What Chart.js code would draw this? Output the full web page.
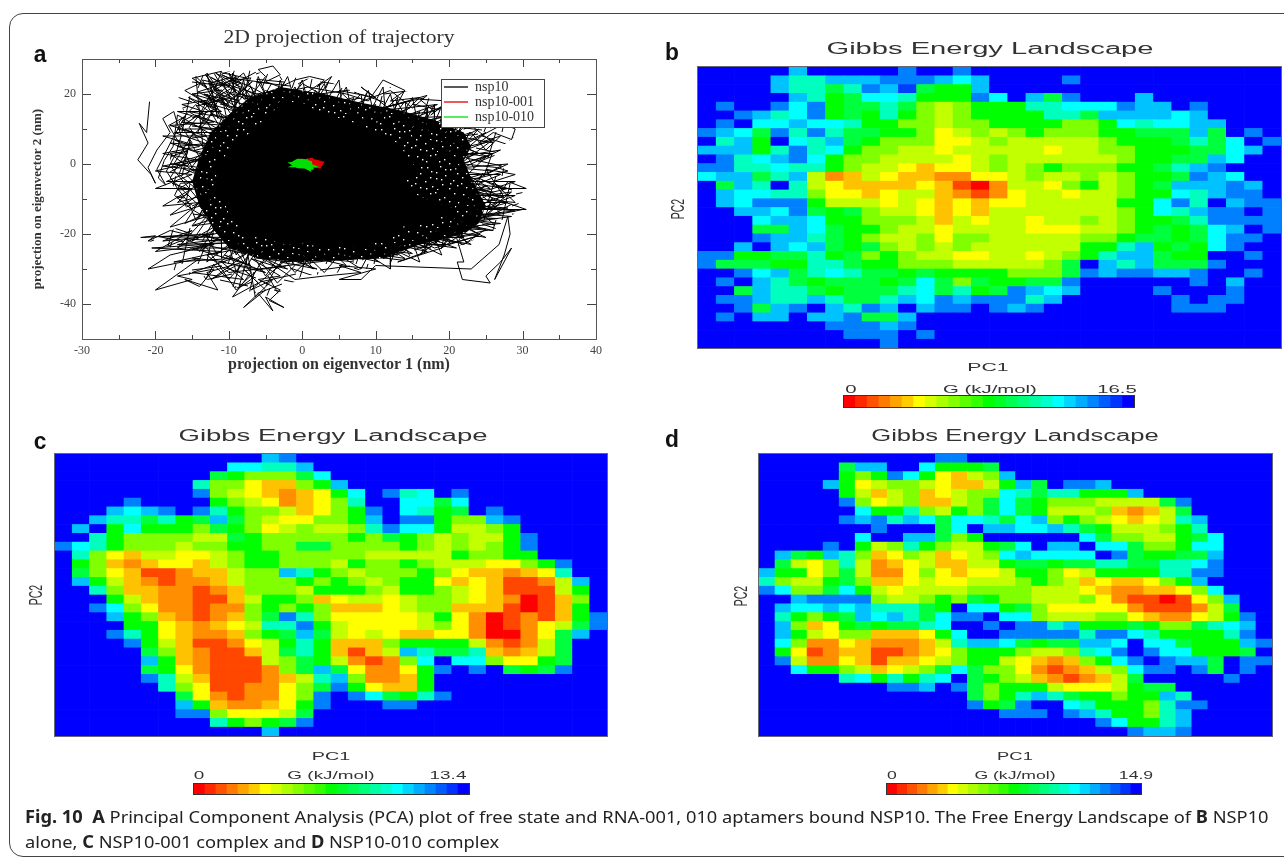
<!DOCTYPE html>
<html><head><meta charset="utf-8">
<script src="https://cdn.jsdelivr.net/npm/chart.js@4"></script>
<style>
html,body{margin:0;padding:0;background:#fff;width:1284px;height:858px;overflow:hidden}
#page{position:absolute;left:0;top:0;width:1284px;height:858px;overflow:hidden;filter:blur(.55px)}
#frame{position:absolute;left:9px;top:13px;width:1400px;height:842px;border:1px solid #444;border-radius:14px}
canvas{position:absolute;display:block}
.t{position:absolute;white-space:nowrap;color:#222;font-family:"Liberation Sans",sans-serif;line-height:1}
.plot{position:absolute;outline:1px solid #667}
</style></head><body><div id="page"><div id="frame"></div></div>
<script>
// ---------- Panel a: trajectory, in nm ----------
const coreOutline=[[-0.5,18],[2.8,14],[6,12.5],[9,9.7],[11,8.5],[13.5,5],[14,2],[15.7,-1.6],[14,-5],[15.6,-9],[18,-11],[21,-13],[19,-15],[16.7,-17],[14,-17.5],[12,-19.6],[10.5,-22],[8,-24],[6,-23],[3.4,-24],[0,-22.5],[-2.2,-23],[-5,-21],[-7.7,-20.5],[-8.5,-17],[-10,-14],[-10.5,-11],[-12,-7],[-11.5,-4],[-12.2,-0.7],[-10.5,2],[-9.5,6],[-7.5,8],[-6.2,11],[-4.6,13],[-3,17]];
const speckleOutline=[[-3,22],[3,20],[8,17.5],[13,15.5],[18,12.5],[22,9],[23,5],[22,1],[23,-4],[25,-12],[24,-17],[22,-20],[16,-23],[11,-27],[5,-27.5],[0,-28],[-6,-27],[-10,-24],[-12,-19],[-14,-12],[-15,-5],[-14,2],[-12.5,9],[-10,14],[-7,19]];
const meshOutline=[[-15,25],[-8,27],[-3,25],[3,24],[8,20],[12,22],[17,19],[21,15],[27,12],[29,8],[26,3],[28,-3],[30,-8],[29,-14],[26,-19],[22,-23],[17,-25],[12,-29],[5,-31],[0,-32],[-4,-38],[-8,-36],[-13,-33],[-18,-30],[-16,-25],[-21,-22],[-18,-19],[-14,-16],[-17,-10],[-18,-4],[-18,2],[-17,9],[-16,14],[-17,20]];
const stLeft=[[-20.8,17.8],[-21.2,9],[-22.2,11.6],[-21,6],[-22.4,1.2],[-20.6,-3],[-20,-5.5],[-21,-1],[-19.8,4],[-18,9],[-19,13],[-17.5,15],[-16.5,8],[-17.2,3],[-18.5,-2],[-17,-7],[-15.5,-11],[-14.5,-16],[-13.5,-13],[-16,-8],[-18,-4],[-16.5,1],[-15,6],[-16.8,12],[-14.5,17],[-13,12],[-15.5,7],[-14,2],[-15.8,-3],[-13.5,-8],[-12,-12],[-14,-6],[-13,0],[-12.5,6],[-14,11],[-11.5,16],[-13,20],[-11,13],[-12,8],[-17,14],[-17.6,5],[-18.8,1],[-19.6,-4],[-18.6,-6],[-19.8,-1.5],[-17.6,7.5],[-16,13.5],[-18.2,11],[-16.2,4],[-15,-1],[-13,-5],[-16.6,-5.5],[-17.4,-9],[-15,-13],[-12.6,-16],[-14.2,-10],[-17.8,-1],[-14.8,9],[-17,10],[-13.4,15],[-16.4,17],[-12.2,18.5],[-15.4,10.5],[-13.2,4],[-16.2,-1.4],[-14.2,-3],[-18,3],[-15.6,3.6],[-16.8,-3],[-12.8,-10]];
const stTopLeft=[[-14.5,25],[-13,22],[-15,24.5],[-11,26.5],[-12,21],[-9,25],[-10,19],[-13.5,17],[-8.5,23],[-11,25.5],[-7,22],[-9.5,16],[-12,19],[-8,26],[-6.5,20],[-10,14],[-7.5,18],[-5,25],[-6,27],[-4,28],[-3,25.5],[-5,23.5],[-3,22],[-1,24],[1,25],[3,24],[2,22],[4,25],[2.5,20],[0,23],[-2,18],[-5,21],[-8,15],[-14,23],[-16,21],[-12,16],[-15.5,19],[-10.5,12],[-13.6,24],[-10.5,22.5],[-12.5,24.8],[-9,21],[-11.8,18],[-14.2,20.6],[-9.6,23.8],[-7,24.6],[-8.2,20],[-5.8,17],[-4.2,23],[-10,24.6],[-12.8,23],[-8.6,17.8],[-11.2,20],[-13.2,25.6],[-10.4,17],[-6.8,23.6],[-9.2,19],[-11.4,23.4],[-7.6,21],[-4.8,19],[-6.2,24.2],[-2.4,23.4],[-3.6,20],[0.8,22]];
const stTopRight=[[6,20],[9,18],[11,24],[14,21],[12,18],[16,19],[13.5,14],[18,15],[16,18.5],[20,18],[17.5,14],[21,20],[19,15],[22,17],[20,12],[24,14],[22,10],[25,12],[26,13],[29,10],[28.5,7],[26,9],[24,6],[27,8],[25,4],[23,9],[20,7],[24,3],[21,1],[8,22],[10,19],[5,21],[7,17],[12,21],[15,16],[17,19.6],[11,16],[14.6,18],[9.4,15],[18.4,17],[13,13],[19.6,13.6],[16,12],[22.6,15],[21,8],[26,6],[23,11],[27,11],[21.6,5],[25.4,2],[19.4,4]];
const stRight=[[22,0],[26.5,-1],[28,-2],[24,-4],[27,-7],[30.5,-7],[28,-5],[26,-12],[28.5,-8],[25,-9],[30.5,-13],[26,-13],[21,-12],[25,-15],[27,-11],[23,-18],[20,-15],[24,-20],[21,-21],[23.5,-15],[19,-19],[17,-23],[20,-23],[24,-20.5],[18,-24],[15,-21],[14,-25],[11,-27],[14,-22],[17,-25],[13,-28],[19,-24],[24,-10],[29,-11],[26,-5],[29,-3],[25,-1.5],[27.5,-9.5],[23,-6],[27,-14],[22.5,-16],[26.2,-17.4],[21,-8],[25.6,-7],[22.4,-3],[26,-10],[23,-13],[28,-12.6],[24.4,-12],[21.8,-18],[25,-18.6],[22,-23],[19,-21],[16,-26],[24.6,-2.6]];
const stLowerRight=[[19,-24],[21,-21],[22,-28],[21.1,-28],[21.8,-33],[25.6,-34],[25,-32],[27,-28],[28.5,-24],[26.2,-33],[27.5,-26],[28.3,-20],[28,-15],[26.8,-23],[23,-30]];
const stBottom=[[23,-30],[10,-29],[8,-33],[5,-33],[10,-30],[5,-29],[8,-31],[3,-32],[-1,-33],[-6,-26],[-2,-30],[-4,-29],[-7,-27],[-3,-32],[-6,-33],[-3,-36],[-4.5,-39],[-2.5,-41],[-5,-38],[-4,-42],[-6,-37],[-8,-41],[-5,-36],[-8,-30],[-6,-34],[-9.5,-38],[-7,-31],[-9,-25],[-12,-29],[-10,-33],[-8,-28],[-13,-31],[-11.5,-36],[-16,-33],[-14,-35],[-12,-30],[-17,-32],[-15,-33],[-20,-36],[-16,-30],[-14,-27],[-21,-30],[-18,-26],[-12,-23],[-20,-25],[-15,-19],[-19,-22],[-14,-21],[-18,-19],[-21,-22],[-20,-20.5],[-22,-21],[-12,-20],[-19,-20.8],[-9,-21],[-17,-23],[-10,-22.5],[-20.5,-24],[-11,-25],[-17.5,-28],[-9.5,-27],[-15,-31],[-8,-33],[-11,-28],[-6,-30],[-8.6,-35],[-7.4,-26],[-6.4,-38],[-4,-33],[-7,-36],[-2,-27],[2,-30],[-3,-28],[6,-27],[-10,-31],[-13,-26],[-8,-24],[-15,-24],[-7,-29],[-10.6,-26],[-5,-31],[-9,-29],[-12.4,-33],[-6.6,-24],[-14,-20],[-11,-22],[-16,-21.4],[-13,-24],[-9,-36],[-7,-33],[-5.6,-28],[-3.4,-34],[-1,-29]];
const stRingA=[[-13,12],[-11,20],[-10,10],[-8,24],[-7,14],[-6,25],[-4,15],[-3,24],[-2,16],[0,24],[1,16],[3,23],[4,15],[6,22],[7,13],[9,21],[10,12],[12,20],[13,12],[15,19],[16,9],[18,17],[18,8],[20,15],[19,6],[22,12],[20,4],[25,9],[21,2],[27,4],[22,-1],[28,0],[23,-5],[29,-5],[23,-9],[29,-9],[24,-13],[30,-13],[23,-16],[27,-17],[22,-18],[25,-21],[20,-19],[23,-23],[18,-21],[19,-26],[15,-22],[16,-28],[12,-24],[12,-30],[9,-26],[8,-30],[5,-26],[3,-31],[1,-27],[-1,-31],[-3,-26],[-5,-32],[-7,-25],[-9,-31],[-10,-23],[-13,-28],[-12,-18],[-17,-24],[-13,-15],[-18,-18],[-14,-11],[-19,-12],[-15,-7],[-20,-7],[-15,-3],[-20,-2],[-14,1],[-19,3],[-14,5],[-19,8],[-13,8],[-18,11],[-12,12],[-17,15],[-11,15],[-15,20],[-10,17],[-13,26]];
const stRingB=[[-11.5,13],[-12.5,23],[-9,12],[-9.5,26],[-5.5,15],[-7,22],[-2.5,17],[-1,22],[0.5,15],[1.8,21],[3,17],[5,24],[5.5,15],[8,20],[8.5,12],[11,22],[11.5,11],[14,18],[14.5,10],[17,16],[17,7],[19.5,19],[19,9],[23,13],[19.6,5],[24,10],[21,3],[26,7],[21.5,0],[25,2],[22.5,-3],[27,-3],[22.5,-7],[26,-8],[23.5,-11],[28,-11],[23,-14],[28.5,-15],[21.5,-17],[26,-19],[19,-18],[22,-21],[17,-21],[21,-24],[14,-22],[17.5,-24],[11,-23],[14,-27],[8,-25],[10.5,-28],[4,-25],[6,-29],[0,-26],[1.5,-30],[-2,-25],[-3.5,-30],[-6,-24],[-7.5,-29],[-9,-22],[-11,-27],[-11,-18],[-15,-22],[-12,-13],[-16,-17],[-13.5,-9],[-17,-11],[-14,-5],[-18.5,-5],[-14,-1],[-17.5,0],[-13,3],[-17,5],[-12.5,6],[-16,10],[-11.5,10],[-15.5,15],[-10,13],[-14,18],[-9,15],[-11,24],[-7,17],[-10,26]];
const stRingC=[[-8,14],[-13.4,20],[-6,16],[-11.8,26],[-5,18],[-8.6,20],[-3.8,18],[-2,25],[-1,18],[2.4,23],[2,16],[7,19],[6.2,14],[10,17],[9,11],[13,19],[12,10],[16,15],[15,8],[21,13],[17.6,6],[20.5,11],[18.4,3],[26,3],[20.4,-1],[26,-2],[21,-5],[28,-7],[22,-10],[25,-6],[22,-12],[29,-13.4],[22,-15],[26.6,-15.6],[20,-16],[24,-18],[18,-19],[20.6,-22.4],[15,-20],[18.4,-23],[12,-22],[15,-25.6],[9,-24],[13,-26],[6,-24],[7,-27.5],[2,-25],[4,-28],[-1,-24],[0,-28.4],[-4,-24],[-5,-28],[-8,-22],[-9,-26],[-10,-19],[-14,-25],[-11,-15],[-15,-17.6],[-12.4,-11],[-18,-14.6],[-13,-7],[-17,-7.4],[-13,-2],[-19,-0.6],[-12.6,2],[-18,6],[-12,5],[-17.4,9],[-11,9],[-16.4,12],[-10.4,11],[-14.6,14]];
const red001=[[0.6,0.9],[1.8,0.6],[2.5,0.2],[2.3,-0.5],[1.2,-0.3],[0.8,0.5],[1.9,0.1],[1.5,-0.6],[0.5,0.1],[1.3,1],[2.1,-0.2]];
const green010=[[-1.2,0.1],[-0.6,0.8],[0.2,0.7],[1,0.2],[1.1,-0.8],[0.2,-0.6],[-0.6,-0.5],[-1,0],[0,0.3],[0.6,-0.2],[-0.3,-0.2],[0.5,0.5],[0.7,-0.9],[-0.5,0.4]];
const axisXTicks=[-30,-20,-10,0,10,20,30,40];
const axisYTicks=[-40,-20,0,20];
// ---------- Panels b, c, d: energy per cell, one letter per cell, top row first ----------
const levelKeys="roagylhnstckbd.";
const levelFractions=[0,.07,.14,.19,.25,.31,.375,.5,.56,.6875,.75,.81,.875,.94,1];
const gridB=[
".....k.....b..b.................",
"....kttkkkbbbkck....b...........",
"....kttstbkdsnnk................",
".....ktnscctnnnbc.ksb...k.......",
".b..bcbnsstshlhnnnttcccbkk.b....",
"..bktcbnsntnhlhnnnnttskkkkck....",
".b.cckcctnnhhlhhnnnnhhnctcckk...",
"bkcsbtbtssnnhylhlhnhhhnnsssks.b.",
".tkn.ctksnhhhyylhlllllhnnnstsc.b",
"kkkntbtcnhhllylllllyllhhnnnssck.",
".btckbcnhhllllylhllllllhnnsskc..",
"bbttcttnhllygyylhlhnhhhnnstkb...",
"ckkstklaglyggaayylhllhlhnnsbkc..",
".skt.tlyggggygorallyhnlhnskkkbk.",
".kcctthyygyllgaoayllyllhnnctkbb.",
".kcbbbnlllylygygyylllllnncbt.kbb",
"..kkcbsnshllygyglllllllhnctkbb.b",
"...ckkcnnhhhlglyllyllhlhnnstbbbb",
"...sskcsnnhllyllllyyyllhnsnsck.b",
"...bkktsnhllhyhhlllllhhnssnscbb.",
"..k.kcksnshlhlhllllllnntknsncb..",
"bbnnsstnshnhllyyllylhntkksnn..b.",
"bsssnnttsnnhhhlllllhs.ktksssb...",
"..bckstctssnsnnnnhhhsbkbbkkb..b.",
".b.ktsnsssnscshsnnssb......b.k..",
"..skttsnssstcstnsbkck....b...b..",
".bbkttktsstkcbkbbbtk......b.bb..",
"..bskb.ktbk.kbb.bkb.......bbb...",
".b.kk.kkbssk....................",
".......bbbkb....................",
"........bbb.b...................",
"..........b....................."];
const gridC=[
"............kb..................",
"..........ccttk.................",
".........snhhhsc................",
"........thhygghnk...............",
"........bhlygagync.btc.b........",
"....b....nhlyagyht..ccsc........",
"...kckb.btnhhlgyhnb.ctns.b......",
"..kttstnskshlyyhhnk.bbnhhkb.....",
".k.ncnnnhsnhylhllhtbccnllhn.....",
"..tnhhhhllsnhhhhhnhsnhlhllnb....",
"bctnhhhlhhnnhhsshhhhnhlhlhnb....",
".thygllyylhnnhhhhhlllllnhhnn....",
".nhgagyyglhnnhhhlnhhnhlllyyhnb..",
".shygooagglhhktnhlhhhnhyggagyt..",
".knlgaoaaglhhhnhnhlhnnygygooalk.",
"..thggaaoaghhhlnnnhlnnhlygoooln",
"...nlgaaooglnnhgyllylhhlygarogh.",
"..bchyaaoaahnhnhgggylhhgggorogn.",
"...knhgaoaghsbthyyyyylnyaroaognb",
"....nnygagylttbnlyyyylhyaroaylsb",
"...btnygaaghnskslylyggyyarraysk.",
"....bnlgooaylntnggghnnnnlaoals..",
".....shgaooglstngoglktsstgagls..",
".....kngaooolhsnlaoahc.cchyyns..",
".....snyaoooahsksyaaynb.b.snsb..",
".....btlgoooagltkhaagn..........",
"......thyooaayhsbnyggn..........",
".......syaoaayhb.bcsntb.........",
".......kngaagynb...bb...........",
".......bbhyyyls.................",
".........tnhnsb.................",
"............k..................."];
const gridD=[
"...........bb...................",
".....skk..cnnns.................",
".....nhnbcnyglhk................",
"....knylhhlygglnks.bbk..........",
".....nlglhgylhhctsttnnnk........",
".....bhylhgglhscsnhhhllllsb.....",
"......cnnthlnhscsnlllhgagls.....",
".....bkbtkcscctsckhnhlygyltk....",
".......b...sc.kkccktsnlllhnt....",
"......c..kkshn......cshhllnsc...",
"....b.nlhtnhllnsc.kk.ccshhncc...",
".ksnkthgyhlgylhckcccc.bsnnssk...",
".slyhtlagylggllnssnssttssttcb...",
"knnyhslaayhygyylnnhylnnnnttbb...",
"thllnshggylyylllhnhlgyggyhnk....",
"bchhscnlyllllhhhhlllygaaggyhc...",
"..kbbbbhllhnhsnhhlllhyaooroyhk..",
".kcckcktttsn.ccnshyyyyyaoooals..",
".tnhnskcktscbb.cchlllhhygaaylnb.",
".khgynsnsstc..b.bbtknnnsnhhstck.",
".knlyhhgggync..bbbbbtbbctnnnntb.",
".chaaygaaagltkkcsnsskkc.ccsnnnkb",
".nyoaggooagyhnnnhllhtcb.bccnnns.",
".blaaygoggylhnnlygaghncb.bkks.bb",
"..cnnhlgylhscshhyaoaglhcbb.bs.b.",
".....tcntntc.snhlgaoagls.....b..",
"........bbk.bshnnnlyyylnss......",
".............shntktsnnhnnkt.....",
".............bnsb..ctnnnhtbb....",
"...............bbb.bktnnhtk.....",
".....................bcnntk.....",
".......................bkkb....."];
const maxB=16.5,maxC=13.4,maxD=14.9;
const colorbarSteps=[0,.04,.08,.12,.16,.2,.25,.29,.33,.37,.41,.45,.5,.54,.58,.62,.66,.7,.75,.79,.83,.87,.91,.95,1];

// ---------- helpers ----------
const page=document.getElementById('page');
function rainbow(f){ // red, yellow, green, cyan, blue
  f=Math.max(0,Math.min(1,f));const s=[[255,0,0],[255,255,0],[0,255,0],[0,255,255],[0,0,255]];
  const p=f*4,i=Math.min(3,Math.floor(p)),u=p-i;
  const c=s[i].map((v,k)=>Math.round(v+(s[i+1][k]-v)*u));return `rgb(${c[0]},${c[1]},${c[2]})`;
}
function text(str,cx,cy,css,sx,rot){
  const d=document.createElement('div');d.className='t';d.textContent=str;d.style.cssText=css||'';
  d.style.left=cx+'px';d.style.top=cy+'px';
  d.style.transform=`translate(-50%,-50%) ${rot?`rotate(${rot}deg) `:''}scaleX(${sx||1})`;
  page.appendChild(d);return d;
}
function mkCanvas(x,y,w,h){
  const c=document.createElement('canvas');c.width=w;c.height=h;
  c.style.cssText=`left:${x}px;top:${y}px;width:${w}px;height:${h}px`;page.appendChild(c);return c;
}
const quiet={legend:{display:false},tooltip:{enabled:false},title:{display:false}};
function cellValues(rows,max){return rows.map(r=>[...r.padEnd(32,'.')].slice(0,32).map(ch=>levelFractions[levelKeys.indexOf(ch)]*max));}
function heatmap(rows,max,x,y,w,h){
  const box=document.createElement('div');box.className='plot';
  box.style.cssText=`left:${x}px;top:${y}px;width:${w}px;height:${h}px`;page.appendChild(box);
  const vals=cellValues(rows,max),labels=vals[0].map((_,i)=>String(i));
  const datasets=vals.slice().reverse().map(row=>({data:row.map(()=>1),backgroundColor:row.map(v=>rainbow(v/max)),borderWidth:0,barPercentage:1,categoryPercentage:1}));
  new Chart(mkCanvas(x,y,w,h),{type:'bar',data:{labels,datasets},options:{responsive:false,animation:false,plugins:quiet,layout:{padding:0},
    scales:{x:{display:false,stacked:true},y:{display:false,stacked:true,min:0,max:32}}}});
}
function colorbar(x,y,w,h){
  new Chart(mkCanvas(x,y,w,h),{type:'bar',data:{labels:colorbarSteps.map(String),datasets:[{data:colorbarSteps.map(()=>1),backgroundColor:colorbarSteps.map(rainbow),borderWidth:0,barPercentage:1,categoryPercentage:1}]},
    options:{responsive:false,animation:false,plugins:quiet,scales:{x:{display:false},y:{display:false,min:0,max:1}}}});
  const o=document.createElement('div');o.style.cssText=`position:absolute;left:${x}px;top:${y}px;width:${w}px;height:${h}px;outline:1px solid #333`;page.appendChild(o);
}
// ---------- panel a ----------
const toPts=a=>a.map(p=>({x:p[0],y:p[1]}));
const nsp10=[].concat(stLeft,stTopLeft,stTopRight,stRight,stLowerRight,stBottom,stRingA,stRingB,stRingC);
function specklePattern(){
  const c=document.createElement('canvas');c.width=46;c.height=38;const g=c.getContext('2d');
  g.fillStyle='#000';g.fillRect(0,0,46,38);g.fillStyle='#fff';
  [[3,4],[12,9],[21,2],[30,7],[40,3],[7,15],[17,19],[26,14],[36,17],[44,12],[2,25],[11,29],[22,26],[31,23],[39,28],[6,35],[18,34],[28,32],[35,36],[43,21],[8,7],[16,3],[25,9],[35,11],[13,15],[22,20],[31,17],[41,16],[6,21],[16,25],[27,27],[36,31],[1,31],[12,36],[23,37],[43,33]].forEach(p=>g.fillRect(p[0],p[1],1.4,1.4));
  return g.createPattern(c,'repeat');
}
function meshPattern(){
  const c=document.createElement('canvas');c.width=64;c.height=44;const g=c.getContext('2d');
  g.fillStyle='#fff';g.fillRect(0,0,64,44);g.strokeStyle='#000';g.lineWidth=1;
  [[0,6,30,2],[22,0,10,22],[34,4,64,14],[4,18,40,10],[48,0,40,26],[0,30,26,20],[18,26,54,34],[60,18,30,30],[6,44,14,24],[36,44,44,22],[0,38,34,42],[42,40,64,28],[12,12,26,36],[28,16,56,22],[54,44,62,8]].forEach(l=>{g.beginPath();g.moveTo(l[0],l[1]);g.lineTo(l[2],l[3]);g.stroke();});
  return g.createPattern(c,'repeat');
}
const tickPlugin={id:'inwardTicks',afterDatasetsDraw(ch){
  const {ctx,chartArea:a,scales:{x,y}}=ch;ctx.save();ctx.strokeStyle='#444';ctx.lineWidth=1;
  const line=(x0,y0,x1,y1)=>{ctx.beginPath();ctx.moveTo(x0,y0);ctx.lineTo(x1,y1);ctx.stroke();};
  for(let v=-30;v<=40;v+=5){const p=Math.round(x.getPixelForValue(v))+.5,l=v%10===0?8:4;line(p,a.bottom,p,a.bottom-l);line(p,a.top,p,a.top+l);}
  for(let v=-40;v<=20;v+=10){const p=Math.round(y.getPixelForValue(v))+.5,l=v%20===0?9:5;line(a.left,p,a.left+l,p);line(a.right,p,a.right-l,p);}
  ctx.strokeStyle='#555';ctx.strokeRect(Math.round(a.left)+.5,Math.round(a.top)+.5,Math.round(a.width),Math.round(a.height));ctx.restore();
}};
const legendPlugin={id:'legendBox',beforeLayout(ch){
    const L=ch.legend;L._layers=()=>[{z:10,draw(area){const c=ch.ctx;c.save();c.fillStyle='#fff';c.strokeStyle='#444';c.lineWidth=1;c.fillRect(441.5,79.5,103,48);c.strokeRect(441.5,79.5,103,48);c.restore();L.draw(area);}}];
  },afterLayout(ch){const L=ch.legend;L.left=443;L.top=79;L.right=443+102;L.bottom=300;}};
new Chart(mkCanvas(0,0,640,380),{type:'scatter',data:{datasets:[
  {label:'nsp10',data:toPts(nsp10),showLine:true,borderColor:'#000',backgroundColor:'#000',borderWidth:1,pointRadius:0,order:3,pointStyle:'line'},
  {label:'nsp10-001',data:toPts(red001),showLine:true,borderColor:'#e00000',backgroundColor:'#e00000',borderWidth:5,pointRadius:0,order:2,pointStyle:'line'},
  {label:'nsp10-010',data:toPts(green010),showLine:true,borderColor:'#00e000',backgroundColor:'#00e000',borderWidth:5,pointRadius:0,order:1,pointStyle:'line'},
  {label:'core',data:toPts(coreOutline),showLine:true,borderColor:'#000',backgroundColor:'#000',borderWidth:1,pointRadius:0,fill:'shape',order:4},
  {label:'fringe',data:toPts(speckleOutline),showLine:true,borderColor:'rgba(0,0,0,0)',backgroundColor:specklePattern(),borderWidth:0,pointRadius:0,fill:'shape',order:5},
  {label:'mesh',data:toPts(meshOutline),showLine:true,borderColor:'rgba(0,0,0,0)',backgroundColor:meshPattern(),borderWidth:0,pointRadius:0,fill:'shape',order:6}
]},options:{responsive:false,animation:false,layout:{padding:{left:0,top:59,right:44,bottom:0}},
  plugins:{tooltip:{enabled:false},title:{display:false},
    legend:{position:'chartArea',align:'start',labels:{filter:i=>{i.lineWidth=1.3;return i.datasetIndex<3},sort:(a,b)=>a.datasetIndex-b.datasetIndex,usePointStyle:true,pointStyle:'line',pointStyleWidth:24,boxHeight:8,padding:1,color:'#333',font:{family:'Liberation Serif',size:14}}}},
  scales:{
    x:{type:'linear',min:-30,max:40,afterFit:s=>{s.height=41},afterBuildTicks:s=>{s.ticks=axisXTicks.map(v=>({value:v}))},grid:{display:false,drawTicks:false},border:{display:false},
       ticks:{padding:5,maxRotation:0,autoSkip:false,color:'#444',font:{family:'Liberation Serif',size:12}},
       title:{display:true,text:'projection on eigenvector 1 (nm)',color:'#333',font:{family:'Liberation Serif',size:16,weight:'bold'},padding:{top:0,bottom:6}}},
    y:{type:'linear',min:-50,max:30,afterFit:s=>{s.width=82},afterBuildTicks:s=>{s.ticks=axisYTicks.map(v=>({value:v}))},grid:{display:false,drawTicks:false},border:{display:false},
       ticks:{padding:6,autoSkip:false,color:'#444',font:{family:'Liberation Serif',size:12}},
       title:{display:true,text:'projection on eigenvector 2 (nm)',color:'#333',font:{family:'Liberation Serif',size:13,weight:'bold'},padding:{top:30,bottom:0}}}
  }},plugins:[tickPlugin,legendPlugin]});
// ---------- panels b, c, d ----------
heatmap(gridB,maxB,698,67,583,281);
heatmap(gridC,maxC,55,454,552,282);
heatmap(gridD,maxD,759,454,513,282);
colorbar(844,396,290,11);colorbar(194,784,275,10);colorbar(887,784,254,10);
// ---------- text ----------
const sans='font-family:"Liberation Sans";color:#333;';
const serif='font-family:"Liberation Serif";color:#333;';
text('2D projection of trajectory',339,37,serif+'font-size:18px',1.2);
[['a',40,54],['b',672,52],['c',40,441],['d',672,439]].forEach(p=>text(p[0],p[1],p[2],'font-family:"Liberation Sans";font-weight:bold;color:#111;font-size:24px',.95));
[[990,49,1.82],[333,436,1.72],[1015,436,1.6]].forEach(p=>text('Gibbs Energy Landscape',p[0],p[1],sans+'font-size:16px',p[2]));
[[988,368,'16.5',851,990,1117,389,1.85],[331,757,'13.4',199,331,448,775,1.72],[1015,757,'14.9',892,1015,1136,775,1.6]].forEach(p=>{
  text('PC1',p[0],p[1],sans+'font-size:11.5px',p[7]);
  text('0',p[3],p[6],sans+'font-size:11px',p[7]);
  text('G (kJ/mol)',p[4],p[6],sans+'font-size:11px',p[7]);
  text(p[2],p[5],p[6],sans+'font-size:11px',p[7]);
});
[[678,209],[36,595],[741,596]].forEach(p=>text('PC2',p[0],p[1],sans+'font-size:18px',.58,-90));
const cap='font-family:"Noto Sans";color:#222;font-size:17px;transform-origin:0 50%;';
function caption(html,x,y,sx){const d=document.createElement('div');d.className='t';d.innerHTML=html;d.style.cssText=cap+`left:${x}px;top:${y}px;transform:translateY(-50%) scaleX(${sx})`;page.appendChild(d);}
caption('<b>Fig. 10&nbsp; A</b> Principal Component Analysis (PCA) plot of free state and RNA-001, 010 aptamers bound NSP10. The Free Energy Landscape of <b>B</b> NSP10',25,816,1.073);
caption('alone, <b>C</b> NSP10-001 complex and <b>D</b> NSP10-010 complex',25,841,1.073);
</script></body></html>
